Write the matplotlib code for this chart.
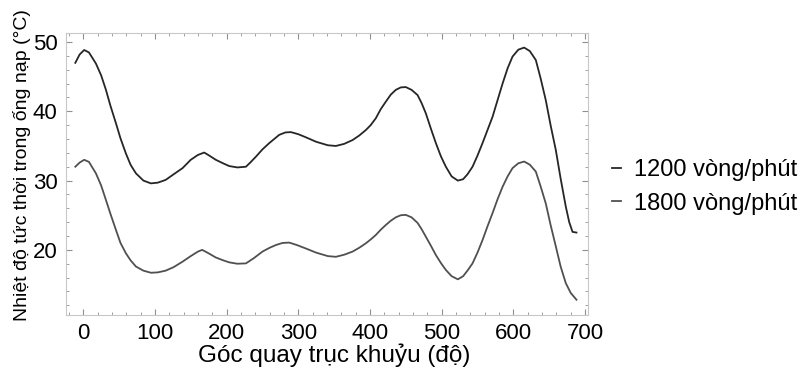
import matplotlib.pyplot as plt
from matplotlib.ticker import MultipleLocator

plt.rcParams['font.family'] = ['Liberation Sans', 'DejaVu Sans']

# crank angle (deg) and temperature (°C)
goc_tren = [-11, -5, 1.4, 8, 17.7, 25, 31.7, 38, 45.6, 52, 59.6, 66, 73.5, 84, 94.4, 104,
            115, 126, 138.6, 150, 160, 168.8, 176, 185, 195, 203.6, 215, 227, 233, 240.9,
            250, 259.4, 273.4, 282, 289.7, 300, 310.6, 325, 341.3, 352.5, 364, 375.7, 385,
            394.3, 401, 408.2, 415, 422.2, 429, 436.1, 443, 450, 458, 466.4, 472, 478, 485,
            492, 499, 505.9, 514, 522.6, 530, 536, 543.1, 550, 557, 564, 571, 578, 585,
            592, 598.9, 607, 615.1, 623, 631.4, 638, 645.3, 652, 659.3, 666, 673.2, 678,
            682.6, 688.1]
nhiet_1200 = [47.0, 48.2, 48.85, 48.5, 46.9, 45.2, 43.1, 40.8, 38.3, 36.1, 33.9, 32.3, 31.05,
              30.0, 29.6, 29.7, 30.1, 30.9, 31.8, 33.0, 33.7, 34.05, 33.6, 33.0, 32.5, 32.1,
              31.9, 32.0, 32.6, 33.45, 34.5, 35.4, 36.6, 36.95, 37.0, 36.7, 36.25, 35.6,
              35.1, 35.0, 35.3, 35.85, 36.5, 37.3, 38.0, 39.0, 40.3, 41.4, 42.4, 43.1,
              43.45, 43.5, 43.1, 42.35, 41.2, 39.7, 37.5, 35.4, 33.5, 32.0, 30.6, 30.0,
              30.2, 30.9, 32.0, 33.6, 35.4, 37.3, 39.2, 41.6, 44.0, 46.2, 47.9, 48.9, 49.2,
              48.7, 47.4, 44.8, 41.6, 38.0, 34.4, 30.3, 26.25, 24.0, 22.6, 22.5]

goc_duoi = [-11, -5, 1.4, 8, 17.7, 25, 31.7, 38, 45.6, 52, 59.6, 66, 73.5, 84, 94.4, 104,
            115, 126, 138.6, 150, 160, 166, 175, 185, 195, 203.6, 215, 227, 238, 250, 260,
            268.8, 278, 287.4, 298, 310.6, 325, 341.3, 352.5, 364, 375.7, 385, 394.3, 401,
            408.2, 415, 422.2, 429, 436.1, 443, 450, 458, 466.4, 472, 478, 485, 492, 499,
            505.9, 514, 522.6, 530, 536, 543.1, 550, 557, 564, 571, 578, 585, 592, 598.9,
            607, 615.1, 623, 631.4, 638, 645.3, 652, 659.3, 666, 673.2, 680, 688.1]
nhiet_1800 = [32.0, 32.6, 33.0, 32.7, 31.05, 29.3, 27.2, 25.2, 22.9, 21.0, 19.5, 18.5, 17.6,
              17.0, 16.7, 16.75, 17.0, 17.5, 18.3, 19.1, 19.75, 20.0, 19.5, 18.9, 18.5, 18.2,
              18.0, 18.05, 18.8, 19.75, 20.3, 20.7, 21.0, 21.05, 20.7, 20.2, 19.6, 19.1,
              19.0, 19.3, 19.75, 20.3, 20.95, 21.5, 22.15, 22.9, 23.6, 24.2, 24.7, 25.0,
              25.05, 24.7, 23.9, 23.0, 21.9, 20.6, 19.25, 18.1, 17.1, 16.2, 15.75, 16.2,
              17.0, 18.05, 19.6, 21.4, 23.4, 25.3, 27.3, 29.1, 30.6, 31.8, 32.5, 32.75,
              32.3, 31.3, 29.2, 26.7, 23.6, 20.5, 17.6, 15.2, 13.8, 12.8]

nhan = ['1200 vòng/phút', '1800 vòng/phút']

fig = plt.figure(figsize=(8.02, 3.67), dpi=100)
ax = fig.add_axes([0.0823, 0.1417, 0.6507, 0.7683])

l1, = ax.plot(goc_tren, nhiet_1200, color='#262626', lw=1.3)
l2, = ax.plot(goc_duoi, nhiet_1800, color='#505050', lw=1.3)

ax.set_xlim(-24, 704)
ax.set_ylim(10.6, 51.3)
ax.xaxis.set_major_locator(MultipleLocator(100))
ax.xaxis.set_minor_locator(MultipleLocator(20))
ax.yaxis.set_major_locator(MultipleLocator(10))
ax.yaxis.set_minor_locator(MultipleLocator(2))
ax.tick_params(which='both', direction='in', top=True, right=True, color='#909090',
               labelsize=16, pad=6)
ax.tick_params(which='major', length=4.5, width=0.8)
ax.tick_params(which='minor', length=2.5, width=0.6)
for s in ax.spines.values():
    s.set_color('#c8c8c8')
    s.set_linewidth(0.8)

ax.set_xlabel('Góc quay trục khuỷu (độ)', fontsize=17.5)
ax.xaxis.set_label_coords(0.513, -0.1)
ax.set_ylabel('Nhiệt độ tức thời trong ống nạp (°C)', fontsize=14)
ax.yaxis.set_label_coords(-0.068, 0.53)

ax.legend([l1, l2], nhan, loc='center left', bbox_to_anchor=(1.046, 0.455), frameon=False,
          fontsize=17, handlelength=0.4, handletextpad=0.55, labelspacing=0.5,
          borderpad=0, borderaxespad=0)

fig.savefig('out.png', dpi=100)
